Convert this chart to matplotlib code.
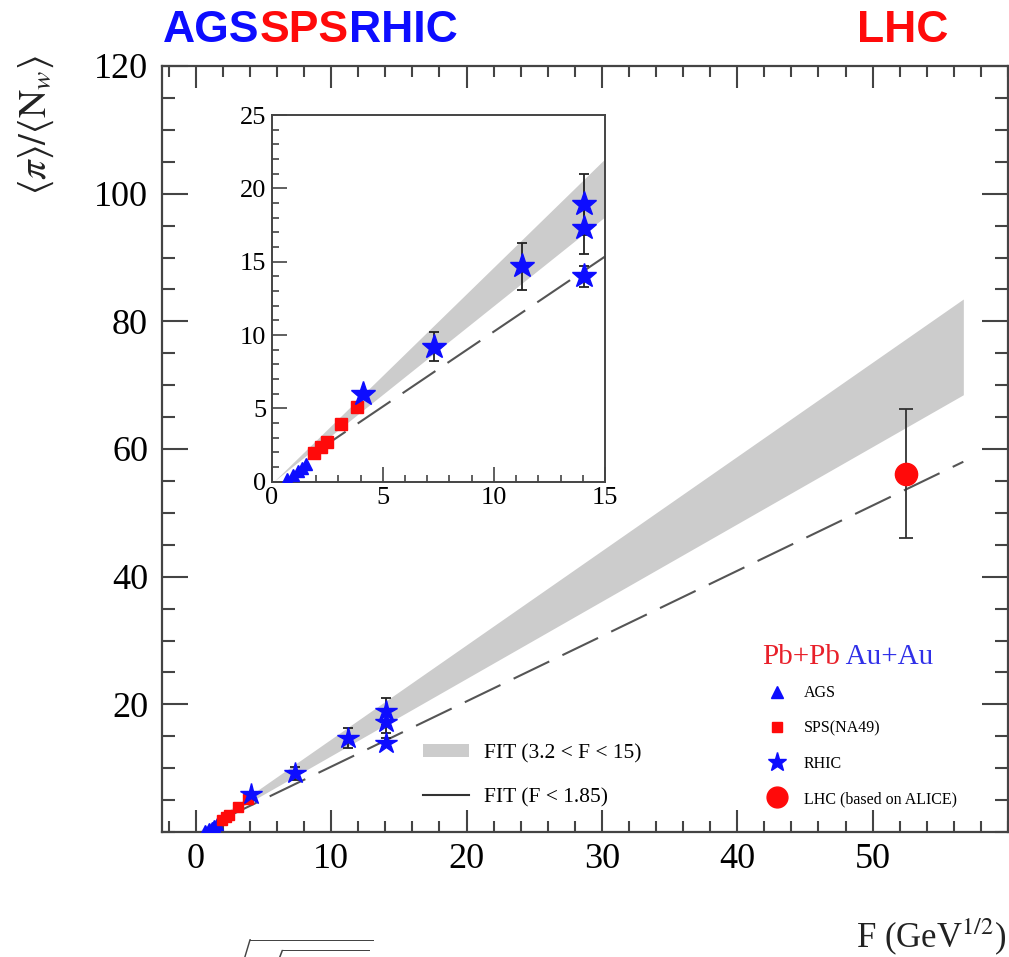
import matplotlib
matplotlib.use('Agg')
import matplotlib.pyplot as plt
from matplotlib.patches import Patch
from matplotlib.lines import Line2D

plt.rcParams['font.family'] = ['Liberation Serif', 'DejaVu Serif']
plt.rcParams['mathtext.fontset'] = 'stix'

# AGS (Au+Au), SPS NA49 (Pb+Pb), RHIC (Au+Au), LHC (Pb+Pb)
ags_f = [0.67, 0.97, 1.17, 1.35, 1.53]
ags_y = [0.15, 0.45, 0.70, 0.95, 1.20]
sps_f = [1.91, 2.23, 2.47, 3.10, 3.82]
sps_y = [1.95, 2.35, 2.70, 3.95, 5.10]
rhic_f = [4.10, 7.30, 11.25, 14.05, 14.05, 14.05]
rhic_y = [6.0, 9.2, 14.7, 18.9, 17.3, 14.0]
rhic_err = [0.0, 1.0, 1.6, 2.1, 1.8, 0.7]
lhc_f = [52.5]
lhc_y = [56.1]
lhc_err = [10.1]

# fit band (3.2 < F < 15) and fit line (F < 1.85)
band_f = [0.13, 15.0, 56.7]
band_hi = [0.0, 21.95, 83.5]
band_lo = [0.0, 18.0, 68.5]
line_f = [1.85, 56.7]
line_y = [1.9, 58.0]

blue = '#0d0dff'
red = '#ff0a0a'
grey = '#cccccc'
dash_col = '#555555'

fig = plt.figure(figsize=(10.09, 9.57), dpi=100)
ax = fig.add_axes([162/1009, 1-832/957, 846/1009, 766/957])


def draw(a, big):
    a.fill_between(band_f, band_lo, band_hi, color=grey, lw=0, zorder=1)
    a.plot(line_f, line_y, color=dash_col, lw=1.5, dashes=(19, 7), zorder=2)
    s = 1.0 if big else 1.15
    a.plot(ags_f, ags_y, '^', color=blue, ms=8*s, mec=blue, zorder=4)
    a.plot(sps_f, sps_y, 's', color=red, ms=7.5*s, mec=red, zorder=4)
    a.errorbar(rhic_f, rhic_y, yerr=rhic_err, fmt='*', color=blue, ms=16*s,
               ecolor='#222222', elinewidth=1.3, capsize=3.5, capthick=1.3, zorder=5)
    if big:
        a.errorbar(lhc_f, lhc_y, yerr=lhc_err, fmt='o', color=red, ms=16,
                   ecolor='#333333', elinewidth=1.3, capsize=5, capthick=1.3, zorder=5)


draw(ax, True)
ax.set_xlim(-2.5, 60)
ax.set_ylim(0, 120)
ax.set_xticks([0, 10, 20, 30, 40, 50])
ax.set_xticks(range(-2, 61, 2), minor=True)
ax.set_yticks([20, 40, 60, 80, 100, 120])
ax.set_yticks(range(0, 121, 5), minor=True)
ax.tick_params(which='both', direction='in', top=True, right=True, width=1.5, color='#444444')
ax.tick_params(axis='x', which='major', length=16, labelsize=26, pad=8)
ax.tick_params(axis='x', which='minor', length=8)
ax.tick_params(axis='y', which='major', length=19, labelsize=26, pad=10)
ax.tick_params(axis='y', which='minor', length=9.5)
for sp in ax.spines.values():
    sp.set_linewidth(1.6)
    sp.set_color('#444444')

# legends
fit_leg = ax.legend(handles=[Patch(facecolor=grey, edgecolor='none'),
                             Line2D([], [], color='#333333', lw=1.5)],
                    labels=['FIT (3.2 < F < 15)', 'FIT (F < 1.85)'],
                    loc='center left', bbox_to_anchor=(0.309, 0.0735), frameon=False,
                    fontsize=15.5, handlelength=2.1, handleheight=0.55, handletextpad=0.7,
                    labelspacing=1.15, borderpad=0, borderaxespad=0)
ax.add_artist(fit_leg)

data_handles = [Line2D([], [], ls='none', marker='^', color=blue, ms=8),
                Line2D([], [], ls='none', marker='s', color=red, ms=7.5),
                Line2D([], [], ls='none', marker='*', color=blue, ms=14),
                Line2D([], [], ls='none', marker='o', color=red, ms=15)]
ax.legend(handles=data_handles,
          labels=['AGS', 'SPS(NA49)', 'RHIC', 'LHC (based on ALICE)'],
          loc='center left', bbox_to_anchor=(0.716, 0.112), frameon=False,
          fontsize=11.5, handlelength=1.1, handletextpad=1.15, labelspacing=1.2,
          borderpad=0, borderaxespad=0)
t1 = ax.text(0.709, 0.228, 'Pb+Pb', color='#e8202a', fontsize=21,
             transform=ax.transAxes, va='center')
ax.annotate(' Au+Au', xycoords=t1, xy=(1, 0), va='bottom', color='#3030e8', fontsize=21)

# inset
axi = fig.add_axes([271.7/1009, 1-481.7/957, 333.3/1009, 366.7/957])
draw(axi, False)
axi.set_xlim(0, 15)
axi.set_ylim(0, 25)
axi.set_xticks([0, 5, 10, 15])
axi.set_xticks(range(0, 16), minor=True)
axi.set_yticks([0, 5, 10, 15, 20, 25])
axi.set_yticks(range(0, 26), minor=True)
axi.tick_params(which='both', direction='in', width=1.2, color='#444444')
axi.tick_params(which='major', length=11, labelsize=19, pad=4)
axi.tick_params(which='minor', length=5)
for sp in axi.spines.values():
    sp.set_linewidth(1.4)
    sp.set_color('#444444')

# axis titles
fig.text(36/1009, 1-125/957, r'$\langle\pi\rangle/\langle \mathrm{N}_w\rangle$',
         rotation=90, fontsize=28, ha='center', va='center', color='#222222')
fig.text(1006/1009, 1-937/957, r'F (GeV$^{1/2}$)', fontsize=25,
         ha='right', va='center', color='#222222')
# formula cut off at the bottom edge, as in the source image
fig.text(140/1009, 1-936/957, r'$=\ \ \ \ \ \ \ \sqrt{\sqrt{s_{NN}\ \ \ \ \ }}$', fontsize=22,
         ha='left', va='top', color='#444444')

# accelerator labels
hdr = dict(fontsize=32, fontweight='bold', family='Liberation Sans')
a1 = fig.text(163/1009, 1-30/957, 'AGS', color=blue, va='center', **hdr)
s2 = ax.annotate('SPS', xycoords=a1, xy=(1, 0), va='bottom', color=red, **hdr)
ax.annotate('RHIC', xycoords=s2, xy=(1, 0), va='bottom', color=blue, **hdr)
fig.text(948/1009, 1-30/957, 'LHC', color=red, ha='right', va='center', **hdr)

fig.savefig('out.png', dpi=100)
